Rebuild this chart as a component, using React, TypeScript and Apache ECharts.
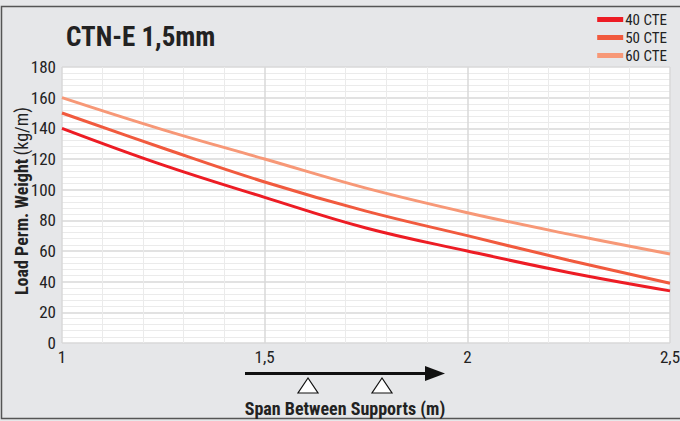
import React, { useEffect, useRef } from "react";
import * as echarts from "echarts";

const spans = [1, 1.25, 1.5, 1.75, 2, 2.25, 2.5];
const cte40 = [140, 116, 95, 75, 60, 46, 34];
const cte50 = [150, 127, 105, 86, 70, 54, 39];
const cte60 = [160, 139, 120, 101, 85, 71, 58];
const seriesNames = ["40 CTE", "50 CTE", "60 CTE"];
const seriesColors = ["#ed1c24", "#f15a3e", "#f79877"];
const title = "CTN-E 1,5mm";
const xName = "Span Between Supports (m)";
const yNameBold = "Load Perm. Weight";
const yNameUnit = "(kg/m)";

const FONT = "'Roboto Condensed', 'Liberation Sans Narrow', 'DejaVu Sans Condensed', Roboto, sans-serif";

export default function App() {
  const ref = useRef<HTMLDivElement>(null);
  useEffect(() => {
    if (!ref.current) return;
    const chart = echarts.init(ref.current, undefined, { renderer: "svg" });
    const all = [cte40, cte50, cte60];
    chart.setOption({
      animation: false,
      backgroundColor: "#e6e7e9",
      textStyle: { fontFamily: FONT },
      grid: {
        left: 62,
        right: 10,
        top: 67,
        bottom: 78,
        containLabel: false,
        outerBoundsMode: "none",
        show: true,
        backgroundColor: "#ffffff",
        borderWidth: 0,
      },
      legend: {
        orient: "vertical",
        right: 8,
        top: 7,
        itemWidth: 26,
        itemHeight: 5,
        itemGap: 3,
        icon: "rect",
        data: seriesNames,
        textStyle: {
          fontFamily: FONT,
          fontSize: 15,
          lineHeight: 15,
          color: "#222",
          padding: [0, 0, 0, -3],
        },
      },
      xAxis: {
        type: "value",
        min: 1,
        max: 2.5,
        interval: 0.5,
        axisLine: { show: false },
        axisTick: { show: false },
        axisLabel: {
          color: "#222",
          fontSize: 17,
          margin: 5,
          formatter: (v: number) => String(v).replace(".", ","),
        },
        splitLine: { show: true, lineStyle: { color: "#d9d9d9", width: 1.5 } },
        minorTick: { show: false, splitNumber: 5 },
        minorSplitLine: { show: true, lineStyle: { color: "#ebebeb", width: 1 } },
      },
      yAxis: {
        type: "value",
        min: 0,
        max: 180,
        interval: 20,
        axisLine: { show: false },
        axisTick: { show: false },
        axisLabel: { color: "#222", fontSize: 17, margin: 6 },
        splitLine: { show: true, lineStyle: { color: "#d9d9d9", width: 1.5 } },
        minorTick: { show: false, splitNumber: 5 },
        minorSplitLine: { show: true, lineStyle: { color: "#ebebeb", width: 1 } },
      },
      series: seriesNames.map((n, i) => ({
        name: n,
        type: "line",
        smooth: 0.4,
        showSymbol: false,
        symbol: "none",
        data: spans.map((x, j) => [x, all[i][j]]),
        lineStyle: { color: seriesColors[i], width: 3 },
        itemStyle: { color: seriesColors[i] },
      })),
      graphic: [
        {
          type: "rect",
          shape: { x: 1.5, y: 6.5, width: 690, height: 412 },
          style: { fill: "none", stroke: "#555", lineWidth: 1.5 },
          silent: true,
        },
        {
          type: "text",
          left: 66,
          top: 23,
          style: { text: title, fontFamily: FONT, fontSize: 27, fontWeight: "bold", fill: "#222" },
        },
        {
          type: "text",
          x: 21,
          y: 201,
          rotation: Math.PI / 2,
          style: {
            text: "{b|" + yNameBold + "} {n|" + yNameUnit + "}",
            align: "center",
            verticalAlign: "middle",
            rich: {
              b: { fontFamily: FONT, fontSize: 18, fontWeight: "bold", fill: "#222" },
              n: { fontFamily: FONT, fontSize: 18, fill: "#222" },
            },
          },
        },
        {
          type: "line",
          shape: { x1: 245, y1: 373.5, x2: 428, y2: 373.5 },
          style: { stroke: "#111", lineWidth: 3 },
        },
        {
          type: "polygon",
          shape: { points: [[425, 366], [445, 373.5], [425, 381]] },
          style: { fill: "#111" },
        },
        {
          type: "polygon",
          shape: { points: [[308, 378], [298, 393], [318, 393]] },
          style: { fill: "#fff", stroke: "#111", lineWidth: 1.2 },
        },
        {
          type: "polygon",
          shape: { points: [[382, 378], [372, 393], [392, 393]] },
          style: { fill: "#fff", stroke: "#111", lineWidth: 1.2 },
        },
        {
          type: "text",
          x: 345,
          y: 408,
          style: {
            text: xName,
            fontFamily: FONT,
            fontSize: 18,
            fontWeight: "bold",
            fill: "#222",
            align: "center",
            verticalAlign: "middle",
          },
        },
      ],
    });
    return () => chart.dispose();
  }, []);
  return (
    <div
      ref={ref}
      style={{ position: "absolute", left: 0, top: 0, width: 680, height: 421 }}
    />
  );
}
